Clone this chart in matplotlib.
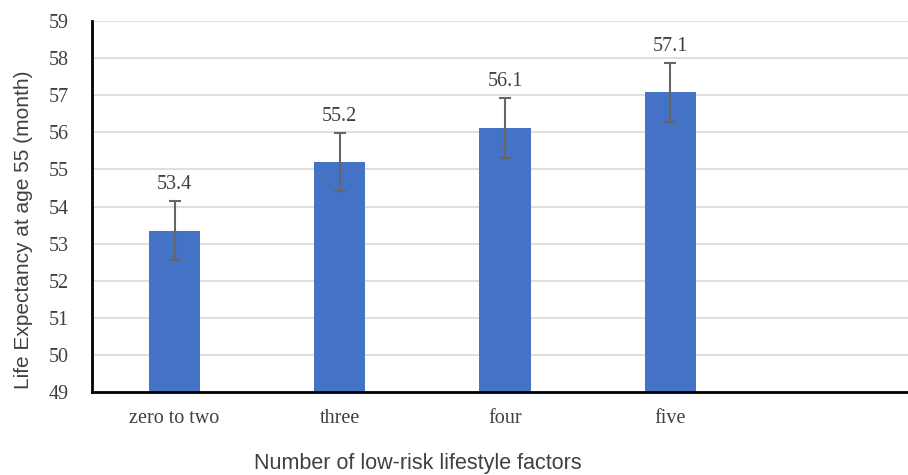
import numpy as np
import matplotlib.pyplot as plt

# 資料
categories = ['zero to two', 'three', 'four', 'five']
values = [53.35, 55.2, 56.12, 57.08]
err = [0.79, 0.79, 0.8, 0.8]
labels = ['53.4', '55.2', '56.1', '57.1']

BAR_COLOR = '#4472C4'
TEXT_COLOR = '#404040'

fig = plt.figure(figsize=(9.08, 4.75), dpi=100)
ax = fig.add_axes([92 / 908, 83 / 475, 826 / 908, 371 / 475])

x = np.arange(len(categories))
ax.bar(x, values, width=0.31, color=BAR_COLOR, bottom=0, zorder=2)
ax.errorbar(x, values, yerr=err, fmt='none', ecolor='#666666',
            elinewidth=1.5, capsize=4, capthick=1.5, zorder=3)

for xi, v, e, lab in zip(x, values, err, labels):
    ax.annotate(lab, (xi, v + e), xytext=(0, 5), textcoords='offset points',
                ha='center', va='bottom', fontsize=14.5,
                family='Liberation Serif', color=TEXT_COLOR)

ax.set_ylim(49, 59)
ax.set_xlim(-0.5, 4.5)
ax.set_yticks(np.arange(49, 60, 1))
ax.set_xticks(x)
ax.set_xticklabels(categories)
ax.yaxis.grid(True, color='#d9d9d9', linewidth=1.2, zorder=0)
ax.set_axisbelow(True)

for lab in ax.get_xticklabels() + ax.get_yticklabels():
    lab.set_family('Liberation Serif')
    lab.set_fontsize(14.5)
    lab.set_color(TEXT_COLOR)
ax.tick_params(axis='both', length=0)
ax.tick_params(axis='x', pad=12)
ax.tick_params(axis='y', pad=17)

for s in ['top', 'right']:
    ax.spines[s].set_visible(False)
ax.spines['left'].set_linewidth(2)
ax.spines['bottom'].set_linewidth(2)
ax.spines['left'].set_color('black')
ax.spines['bottom'].set_color('black')

# 軸標題位置(參考圖不是置中於座標軸)
ax.set_ylabel('Life Expectancy at age 55 (month)', fontsize=15,
              family='Liberation Sans', color=TEXT_COLOR, va='center')
ax.yaxis.set_label_coords(-0.0835, 0.437)
ax.set_xlabel('Number of low-risk lifestyle factors', fontsize=15.5,
              family='Liberation Sans', color=TEXT_COLOR, va='center')
ax.xaxis.set_label_coords(0.395, -0.194)

fig.savefig('out.png', dpi=100)
